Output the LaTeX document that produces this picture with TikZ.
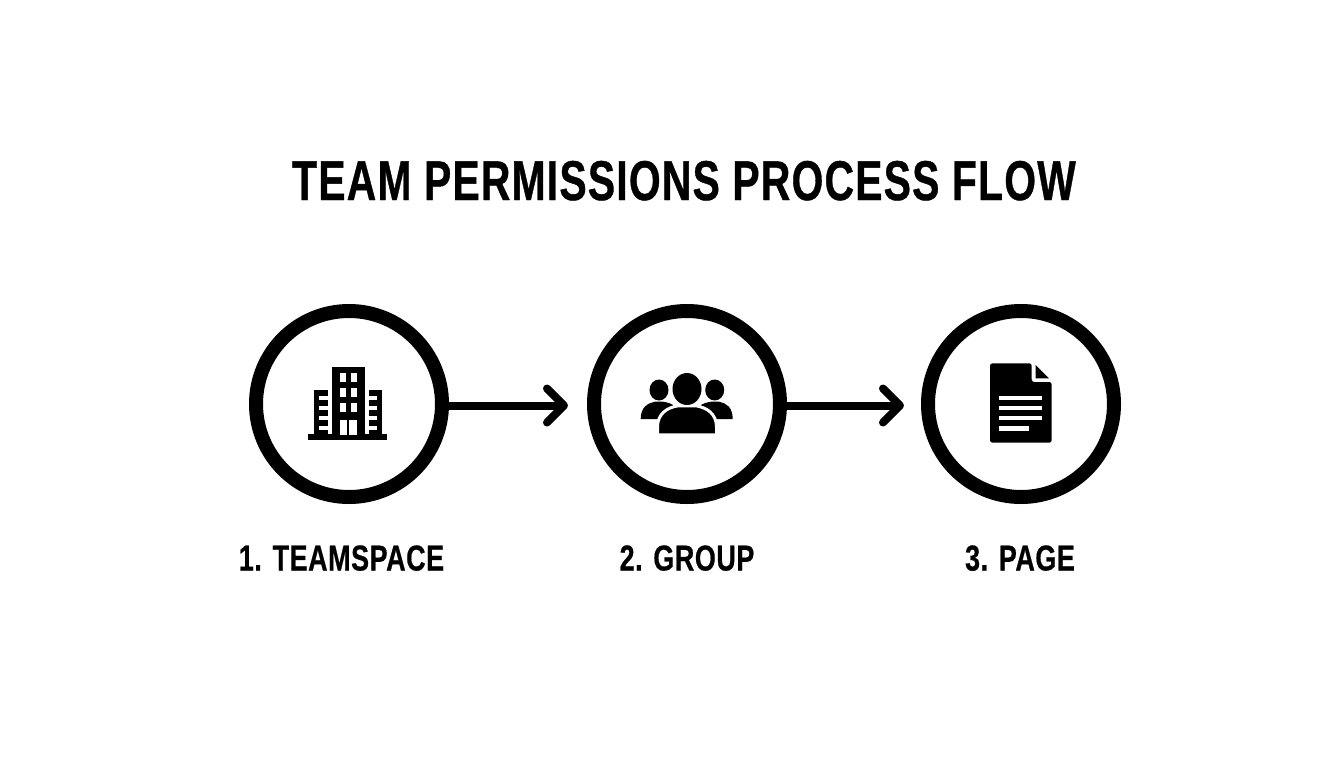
\documentclass[tikz,border=0pt]{standalone}
\usepackage{fontspec}
\setmainfont{Liberation Sans}
\newfontfamily\titlefont[UprightFont=* Bold,LetterSpace=3,FakeBold=0.8]{Liberation Sans}
\newfontfamily\labelfont[UprightFont=* Bold,LetterSpace=2,FakeBold=0.7]{Liberation Sans}
\usetikzlibrary{arrows.meta}
\tikzset{
  stepcircle/.style={circle, draw=black, line width=14pt, minimum size=186pt, inner sep=0pt},
  flowline/.style={line width=8pt, -{Straight Barb[length=17pt,width=34pt,line width=8pt,round]}},
  steplabel/.style={font=\labelfont\fontsize{36}{36}\selectfont, inner sep=0pt, anchor=base, xscale=0.749},
  halo/.style={draw=white, line width=3pt, fill=black}
}
\begin{document}
\begin{tikzpicture}[x=1pt,y=-1pt]
\useasboundingbox (0,0) rectangle (1344,768);
\node [font=\titlefont\fontsize{56}{56}\selectfont, inner sep=0pt, anchor=base, xscale=0.729] (title) at (684,200) {TEAM PERMISSIONS PROCESS FLOW};
% steps
\node [stepcircle] (team) at (349,404) {};
\node [stepcircle] (group) at (687,404) {};
\node [stepcircle] (page) at (1021,404) {};
\coordinate (teamend) at (568,405.5);
\coordinate (groupend) at (904,405.5);
\draw [flowline] (team.east |- teamend) -- (teamend);
\draw [flowline] (group.east |- groupend) -- (groupend);
\node [steplabel] (teamlabel) at (341.5,570.5) {1. TEAMSPACE};
\node [steplabel] (grouplabel) at (687,570.5) {2. GROUP};
\node [steplabel] (pagelabel) at (1020,570.5) {3. PAGE};
% building
\fill (331.7,367) rectangle (365,435);
\fill (314.3,390) rectangle (327.7,435);
\fill (369,390) rectangle (382.3,435);
\fill (308.3,434.3) rectangle (387.3,440.3);
\foreach \y in {373.3,388.3,403.3} {
  \fill [white] (340.3,\y) rectangle ++(5.6,9);
  \fill [white] (351,\y) rectangle ++(5.6,9);
}
\fill [white] (340,420) rectangle (347.3,435);
\fill [white] (349.3,420) rectangle (356.7,435);
\foreach \y in {395.7,405.7,415.7,425.7} {
  \fill [white] (319.3,\y) rectangle ++(8.4,4.6);
  \fill [white] (369,\y) rectangle ++(8.4,4.6);
}
% people
\fill (659,390) ellipse [x radius=9.5pt, y radius=10.5pt];
\fill (714.7,390) ellipse [x radius=9.5pt, y radius=10.5pt];
\fill (640.7,419) .. controls (640.7,407) and (648,403) .. (655,401.7) -- (663,401.7) .. controls (672,403) and (680,407) .. (680,419) -- cycle;
\fill (732.7,419) .. controls (732.7,407) and (726,403) .. (719,401.7) -- (711,401.7) .. controls (702,403) and (694,407) .. (694,419) -- cycle;
\draw [halo] (657.5,434.8) -- (657.5,427) .. controls (657.5,414) and (667,407.5) .. (678,405.8) -- (696,405.8) .. controls (707,407.5) and (716.5,414) .. (716.5,427) -- (716.5,434.8) -- cycle;
\fill (687,389) ellipse [x radius=14.5pt, y radius=16pt];
% page
\fill [rounded corners=2.5pt] (990,363.3) -- (1031.7,363.3) -- (1031.7,382) -- (1051.7,382) -- (1051.7,442.7) -- (990,442.7) -- cycle;
\fill (1035.7,365) -- (1049,378.3) -- (1035.7,378.3) -- cycle;
\foreach \y/\xend in {395.7/1042.3,405.7/1042.3,415.7/1042.3,426/1028.7} {
  \fill [white] (999.3,\y) rectangle (\xend,\y+4.6);
}
\end{tikzpicture}
\end{document}
